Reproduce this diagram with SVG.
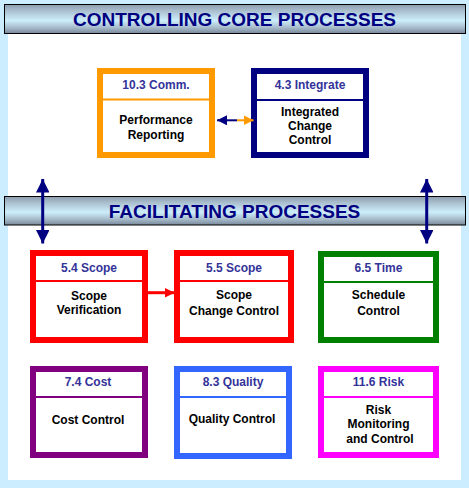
<svg xmlns="http://www.w3.org/2000/svg" width="469" height="488" viewBox="0 0 469 488">
<defs>
<linearGradient id="band" x1="0" y1="0" x2="0" y2="1">
<stop offset="0" stop-color="#8C9CAC"/>
<stop offset="0.2" stop-color="#A8BCCC"/>
<stop offset="0.55" stop-color="#CDEEFC"/>
<stop offset="0.8" stop-color="#A6BACA"/>
<stop offset="1" stop-color="#78889A"/>
</linearGradient>
<marker id="navyHead" viewBox="0 0 10 10" refX="10" refY="5" markerWidth="4.7" markerHeight="4.5" markerUnits="strokeWidth" orient="auto-start-reverse">
<path d="M0,0 L10,5 L0,10 z" fill="#000080"/>
</marker>
<marker id="navyHeadS" viewBox="0 0 10 10" refX="10" refY="5" markerWidth="5" markerHeight="5" markerUnits="strokeWidth" orient="auto-start-reverse">
<path d="M0,0 L10,5 L0,10 z" fill="#000080"/>
</marker>
<marker id="orangeHead" viewBox="0 0 10 10" refX="10" refY="5" markerWidth="5" markerHeight="5" markerUnits="strokeWidth" orient="auto">
<path d="M0,0 L10,5 L0,10 z" fill="#FF9900"/>
</marker>
<marker id="redHead" viewBox="0 0 10 10" refX="10" refY="5" markerWidth="3.3" markerHeight="4" markerUnits="strokeWidth" orient="auto">
<path d="M0,0 L10,5 L0,10 z" fill="#FF0000"/>
</marker>
</defs>
<style>
.box{fill:#FFFFFF;stroke-width:6}
.sep{stroke-width:2}
.hd{font-family:"Liberation Sans",Arial,sans-serif;font-weight:bold;font-size:12px;fill:#333399;text-anchor:middle}
.bd{font-family:"Liberation Sans",Arial,sans-serif;font-weight:bold;font-size:12px;fill:#000000;text-anchor:middle}
.band{fill:url(#band);stroke:#000000;stroke-width:1}
.title{font-family:"Liberation Sans",Arial,sans-serif;font-weight:bold;font-size:19px;fill:#000080;text-anchor:middle}
</style>
<rect x="0" y="0" width="469" height="488" fill="#CCECFF"/>
<rect x="8" y="20" width="453" height="460" fill="#FFFFFF"/>

<g id="banner-controlling">
<rect class="band" x="4.5" y="4.5" width="461" height="29"/>
<text class="title" x="234.5" y="26">CONTROLLING CORE PROCESSES</text>
</g>

<g id="banner-facilitating">
<rect class="band" x="4.5" y="196.5" width="461" height="28.5"/>
<text class="title" x="234.5" y="217.5">FACILITATING PROCESSES</text>
</g>

<g id="node-comm">
<rect class="box" x="100" y="71" width="112" height="84" stroke="#FF9900"/>
<line class="sep" x1="100" y1="99.5" x2="212" y2="99.5" stroke="#FF9900"/>
<text class="hd" x="156" y="89">10.3 Comm.</text>
<text class="bd" x="156" y="124">Performance</text>
<text class="bd" x="156" y="138.5">Reporting</text>
</g>

<g id="node-integrate">
<rect class="box" x="254" y="71" width="112" height="84" stroke="#000080"/>
<line class="sep" x1="254" y1="100" x2="366" y2="100" stroke="#000080"/>
<text class="hd" x="310" y="89">4.3 Integrate</text>
<text class="bd" x="310" y="116">Integrated</text>
<text class="bd" x="310" y="130">Change</text>
<text class="bd" x="310" y="143.5">Control</text>
</g>

<g id="node-scope-verif">
<rect class="box" x="33" y="253" width="112" height="87" stroke="#FF0000"/>
<line class="sep" x1="33" y1="281" x2="145" y2="281" stroke="#FF0000"/>
<text class="hd" x="89" y="272">5.4 Scope</text>
<text class="bd" x="89" y="300">Scope</text>
<text class="bd" x="89" y="313.5">Verification</text>
</g>

<g id="node-scope-change">
<rect class="box" x="177" y="253" width="114" height="87" stroke="#FF0000"/>
<line class="sep" x1="177" y1="281" x2="291" y2="281" stroke="#FF0000"/>
<text class="hd" x="234" y="272">5.5 Scope</text>
<text class="bd" x="234" y="299">Scope</text>
<text class="bd" x="234" y="314.5">Change Control</text>
</g>

<g id="node-time">
<rect class="box" x="321" y="254" width="115" height="86" stroke="#008000"/>
<line class="sep" x1="321" y1="282" x2="436" y2="282" stroke="#008000"/>
<text class="hd" x="378.5" y="271.5">6.5 Time</text>
<text class="bd" x="378.5" y="299">Schedule</text>
<text class="bd" x="378.5" y="314.5">Control</text>
</g>

<g id="node-cost">
<rect class="box" x="33" y="369" width="112" height="86" stroke="#800080"/>
<line class="sep" x1="33" y1="397" x2="145" y2="397" stroke="#800080"/>
<text class="hd" x="88" y="385.5">7.4 Cost</text>
<text class="bd" x="88" y="423.5">Cost Control</text>
</g>

<g id="node-quality">
<rect class="box" x="177" y="369" width="112" height="87" stroke="#3366FF"/>
<line class="sep" x1="177" y1="397" x2="289" y2="397" stroke="#3366FF"/>
<text class="hd" x="233" y="385.5">8.3 Quality</text>
<text class="bd" x="232" y="423">Quality Control</text>
</g>

<g id="node-risk">
<rect class="box" x="321" y="369" width="115" height="86" stroke="#FF00FF"/>
<line class="sep" x1="321" y1="397" x2="436" y2="397" stroke="#FF00FF"/>
<text class="hd" x="378.5" y="385.5">11.6 Risk</text>
<text class="bd" x="378.5" y="413.5">Risk</text>
<text class="bd" x="378.5" y="427.5">Monitoring</text>
<text class="bd" x="380" y="443">and Control</text>
</g>

<g id="connectors">
<line x1="42.7" y1="179" x2="42.7" y2="243.5" stroke="#000080" stroke-width="3" marker-start="url(#navyHead)" marker-end="url(#navyHead)"/>
<line x1="426.7" y1="179" x2="426.7" y2="243.5" stroke="#000080" stroke-width="3" marker-start="url(#navyHead)" marker-end="url(#navyHead)"/>
<line x1="217" y1="120.3" x2="237" y2="120.3" stroke="#000080" stroke-width="2" marker-start="url(#navyHeadS)"/>
<line x1="237" y1="120.3" x2="253.5" y2="120.3" stroke="#FF9900" stroke-width="2" marker-end="url(#orangeHead)"/>
<line x1="148" y1="292.7" x2="174.5" y2="292.7" stroke="#FF0000" stroke-width="3" marker-end="url(#redHead)"/>
</g>
</svg>
